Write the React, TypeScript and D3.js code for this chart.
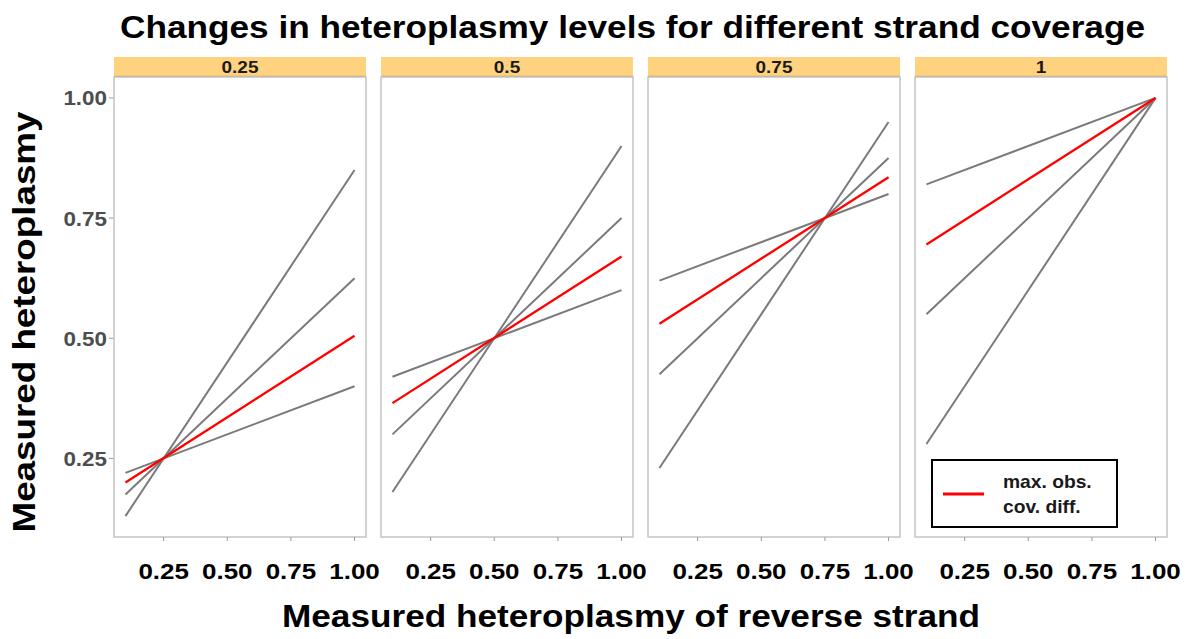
import React from "react";
import * as d3 from "d3";

// facet values (strand coverage) and strip labels
const facetValues = [0.25, 0.5, 0.75, 1];
const facetLabels = ["0.25", "0.5", "0.75", "1"];

// x positions where every line starts / ends
const xStart = 0.1;
const xEnd = 1.0;

// gray lines: measured heteroplasmy at xStart and xEnd, per facet
const grayStartY = [
  [0.13, 0.175, 0.22],
  [0.18, 0.3, 0.42],
  [0.23, 0.425, 0.62],
  [0.28, 0.55, 0.82],
];
const grayEndY = [
  [0.85, 0.625, 0.4],
  [0.9, 0.75, 0.6],
  [0.95, 0.875, 0.8],
  [1.0, 1.0, 1.0],
];

// red line (max. obs. cov. diff.)
const redStartY = [0.2, 0.365, 0.53, 0.695];
const redEndY = [0.505, 0.67, 0.835, 1.0];

const xTicks = [0.25, 0.5, 0.75, 1.0];
const yTicks = [0.25, 0.5, 0.75, 1.0];

const W = 1196;
const H = 639;
const panelLeft = 114;
const panelW = 252;
const panelGap = 15;
const stripTop = 57;
const panelTop = 77;
const panelBottom = 537;

const font = "'Liberation Sans', Arial, Helvetica, sans-serif";

const App = () => {
  const x = d3.scaleLinear().domain([0.055, 1.045]).range([0, panelW]);
  const y = d3.scaleLinear().domain([0.0865, 1.0435]).range([panelBottom, panelTop]);
  const line = d3
    .line<[number, number]>()
    .x((d) => x(d[0]))
    .y((d) => y(d[1]));

  return (
    <svg width={W} height={H} style={{ position: "absolute", left: 0, top: 0, background: "#fff" }}>
      <text
        x={120}
        y={38}
        fontFamily={font}
        fontWeight="bold"
        fontSize={31}
        fill="#000"
        textLength={1025}
        lengthAdjust="spacingAndGlyphs"
      >
        Changes in heteroplasmy levels for different strand coverage
      </text>

      {/* y axis ticks + labels */}
      {yTicks.map((t) => (
        <g key={"y" + t}>
          <line x1={panelLeft - 5} x2={panelLeft} y1={y(t)} y2={y(t)} stroke="#999" strokeWidth={1} />
          <text
            transform={`translate(${panelLeft - 7},${y(t) + 7.5}) scale(1.12,1)`}
            textAnchor="end"
            fontFamily={font}
            fontWeight="bold"
            fontSize={20}
            fill="#4d4d4d"
          >
            {t.toFixed(2)}
          </text>
        </g>
      ))}

      {facetValues.map((f, i) => {
        const left = panelLeft + i * (panelW + panelGap);
        return (
          <g key={"p" + f}>
            <rect x={left} y={stripTop} width={panelW} height={panelTop - stripTop} fill="#FFD27F" />
            <line x1={left} x2={left + panelW} y1={panelTop - 0.5} y2={panelTop - 0.5} stroke="#C9A35E" strokeWidth={1.5} />
            <text
              transform={`translate(${left + panelW / 2},72.5) scale(1.15,1)`}
              textAnchor="middle"
              fontFamily={font}
              fontWeight="bold"
              fontSize={16.5}
              fill="#1a1a1a"
            >
              {facetLabels[i]}
            </text>
            <rect x={left} y={panelTop} width={panelW} height={panelBottom - panelTop} fill="#fff" stroke="#c4c4c4" strokeWidth={1.5} />
            <g transform={`translate(${left},0)`}>
              {grayStartY[i].map((s, j) => (
                <path
                  key={"g" + j}
                  d={line([[xStart, s], [xEnd, grayEndY[i][j]]]) || ""}
                  fill="none"
                  stroke="#7a7a7a"
                  strokeWidth={2}
                />
              ))}
              <path
                d={line([[xStart, redStartY[i]], [xEnd, redEndY[i]]]) || ""}
                fill="none"
                stroke="#ff0000"
                strokeWidth={2.3}
              />
              {xTicks.map((t) => (
                <g key={"x" + t}>
                  <line x1={x(t)} x2={x(t)} y1={panelBottom} y2={panelBottom + 4} stroke="#999" strokeWidth={1} />
                  <text
                    transform={`translate(${x(t)},579) scale(1.18,1)`}
                    textAnchor="middle"
                    fontFamily={font}
                    fontWeight="bold"
                    fontSize={22}
                    fill="#000"
                  >
                    {t.toFixed(2)}
                  </text>
                </g>
              ))}
            </g>
          </g>
        );
      })}

      {/* legend */}
      <rect x={932} y={460} width={185} height={67} fill="#fff" stroke="#000" strokeWidth={2} />
      <line x1={943} x2={984} y1={494} y2={494} stroke="#ff0000" strokeWidth={3} />
      <text transform={`translate(1003,488) scale(1.1,1)`} fontFamily={font} fontWeight="bold" fontSize={17.5} fill="#1a1a1a">
        max. obs.
      </text>
      <text transform={`translate(1003,513) scale(1.1,1)`} fontFamily={font} fontWeight="bold" fontSize={17.5} fill="#1a1a1a">
        cov. diff.
      </text>

      {/* axis titles */}
      <text
        transform="translate(35,322) rotate(-90)"
        textAnchor="middle"
        fontFamily={font}
        fontWeight="bold"
        fontSize={31}
        fill="#000"
        textLength={421}
        lengthAdjust="spacingAndGlyphs"
      >
        Measured heteroplasmy
      </text>
      <text
        x={631}
        y={627}
        textAnchor="middle"
        fontFamily={font}
        fontWeight="bold"
        fontSize={31}
        fill="#000"
        textLength={698}
        lengthAdjust="spacingAndGlyphs"
      >
        Measured heteroplasmy of reverse strand
      </text>
    </svg>
  );
};

export default App;
